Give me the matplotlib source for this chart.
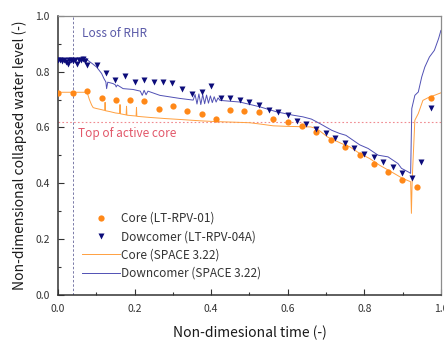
import matplotlib
matplotlib.use("Agg")
import matplotlib.pyplot as plt
from matplotlib.ticker import MultipleLocator

plt.rcParams['font.family'] = ['Noto Sans CJK KR', 'DejaVu Sans']

# Measured core level (LT-RPV-01)
core_exp_t = [0.001, 0.038, 0.076, 0.114, 0.151, 0.188, 0.225, 0.264, 0.301,
              0.338, 0.375, 0.413, 0.449, 0.487, 0.525, 0.562, 0.600, 0.638,
              0.675, 0.712, 0.750, 0.788, 0.825, 0.861, 0.899, 0.937, 0.974]
core_exp_y = [0.724, 0.724, 0.730, 0.706, 0.700, 0.697, 0.696, 0.665, 0.677,
              0.658, 0.650, 0.632, 0.661, 0.659, 0.655, 0.630, 0.620, 0.607,
              0.584, 0.557, 0.531, 0.501, 0.468, 0.441, 0.414, 0.389, 0.706]

# Measured downcomer level (LT-RPV-04A)
dc_exp_t = [0.000, 0.005, 0.010, 0.015, 0.020, 0.025, 0.030, 0.035, 0.040,
            0.045, 0.050, 0.055, 0.060, 0.065, 0.070,
            0.076, 0.101, 0.125, 0.150, 0.176, 0.201, 0.225, 0.251, 0.275,
            0.299, 0.325, 0.351, 0.375, 0.400, 0.425, 0.450, 0.475, 0.499,
            0.525, 0.550, 0.575, 0.600, 0.624, 0.649, 0.674, 0.700, 0.724,
            0.750, 0.774, 0.799, 0.825, 0.850, 0.876, 0.899, 0.925, 0.949,
            0.975]
dc_exp_y = [0.840, 0.842, 0.838, 0.841, 0.836, 0.826, 0.840, 0.842, 0.838,
            0.841, 0.826, 0.840, 0.843, 0.845, 0.838,
            0.822, 0.825, 0.795, 0.771, 0.783, 0.762, 0.769, 0.762, 0.764,
            0.758, 0.739, 0.721, 0.727, 0.747, 0.704, 0.704, 0.700, 0.691,
            0.680, 0.664, 0.656, 0.644, 0.624, 0.614, 0.596, 0.579, 0.563,
            0.543, 0.525, 0.507, 0.495, 0.477, 0.459, 0.438, 0.421, 0.477,
            0.668]

# SPACE 3.22 core level
core_sim_t = [0.000, 0.076, 0.082, 0.088, 0.092, 0.100, 0.110, 0.122, 0.123,
              0.124, 0.135, 0.150, 0.161, 0.162, 0.163, 0.178, 0.179, 0.180,
              0.204, 0.205, 0.206, 0.240, 0.280, 0.327, 0.370, 0.414, 0.460,
              0.501, 0.530, 0.562, 0.600, 0.632, 0.660, 0.676, 0.704, 0.740,
              0.762, 0.788, 0.814, 0.840, 0.875, 0.900, 0.921, 0.923, 0.925,
              0.932, 0.941, 0.953, 0.970, 0.985, 1.000]
core_sim_y = [0.726, 0.726, 0.700, 0.680, 0.671, 0.668, 0.665, 0.661, 0.690,
              0.660, 0.657, 0.652, 0.650, 0.682, 0.649, 0.645, 0.676, 0.644,
              0.641, 0.672, 0.640, 0.636, 0.632, 0.628, 0.624, 0.621, 0.619,
              0.617, 0.612, 0.606, 0.604, 0.603, 0.602, 0.596, 0.566, 0.543,
              0.531, 0.507, 0.489, 0.465, 0.438, 0.418, 0.406, 0.293, 0.412,
              0.626, 0.650, 0.697, 0.709, 0.716, 0.724]

# SPACE 3.22 downcomer level
dc_sim_t = [0.000, 0.020, 0.040, 0.060, 0.065, 0.072, 0.078, 0.090, 0.101,
            0.114, 0.120, 0.125, 0.127, 0.130, 0.144, 0.150, 0.152, 0.155,
            0.170, 0.196, 0.215, 0.220, 0.225, 0.230, 0.235, 0.266, 0.318,
            0.353, 0.358, 0.363, 0.368, 0.373, 0.378, 0.383, 0.388, 0.393,
            0.398, 0.403, 0.408, 0.413, 0.418, 0.423, 0.475, 0.527, 0.571,
            0.614, 0.640, 0.662, 0.684, 0.715, 0.735, 0.752, 0.770, 0.788,
            0.810, 0.836, 0.862, 0.888, 0.897, 0.915, 0.921, 0.924, 0.932,
            0.941, 0.950, 0.958, 0.970, 0.983, 0.994, 1.000]
dc_sim_y = [0.845, 0.846, 0.845, 0.846, 0.852, 0.850, 0.840, 0.828, 0.816,
            0.793, 0.775, 0.763, 0.739, 0.762, 0.757, 0.752, 0.745, 0.752,
            0.739, 0.736, 0.730, 0.715, 0.733, 0.717, 0.730, 0.715, 0.704,
            0.698, 0.718, 0.684, 0.720, 0.682, 0.718, 0.685, 0.716, 0.687,
            0.713, 0.689, 0.710, 0.691, 0.706, 0.697, 0.691, 0.674, 0.656,
            0.644, 0.638, 0.630, 0.614, 0.590, 0.579, 0.572, 0.555, 0.538,
            0.525, 0.501, 0.495, 0.471, 0.454, 0.441, 0.436, 0.668, 0.715,
            0.727, 0.781, 0.816, 0.852, 0.876, 0.918, 0.947]

fig = plt.figure(figsize=(4.44, 3.40), dpi=100)
ax = fig.add_axes([0.1306, 0.1315, 0.8624, 0.8225])

ax.plot(core_sim_t, core_sim_y, color='#ffa040', lw=0.7, zorder=2,
        label='Core (SPACE 3.22)')
ax.plot(dc_sim_t, dc_sim_y, color='#5050b4', lw=0.7, zorder=2,
        label='Downcomer (SPACE 3.22)')
ax.plot(core_exp_t, core_exp_y, 'o', color='#ff8818', ms=4.5, mec='none',
        zorder=3, label='Core (LT-RPV-01)')
ax.plot(dc_exp_t, dc_exp_y, 'v', color='#0c0c7a', ms=5.0, mec='none',
        zorder=3, label='Dowcomer (LT-RPV-04A)')

# event marker and top of active core
ax.axvline(0.04, color='#7a7aa8', lw=0.7, ls=(0, (2.5, 2)), zorder=1)
ax.axhline(0.62, color='#f08a90', lw=0.8, ls=(0, (1.5, 2)), zorder=1)
ax.text(0.063, 0.937, 'Loss of RHR', color='#5a5aa8', fontsize=8.5,
        va='center', ha='left')
ax.text(0.052, 0.58, 'Top of active core', color='#e2586a', fontsize=8.5,
        va='center', ha='left')

ax.set_xlim(0, 1.0)
ax.set_ylim(0, 1.0)
ax.xaxis.set_major_locator(MultipleLocator(0.2))
ax.xaxis.set_minor_locator(MultipleLocator(0.1))
ax.yaxis.set_major_locator(MultipleLocator(0.2))
ax.yaxis.set_minor_locator(MultipleLocator(0.1))
ax.xaxis.set_major_formatter(plt.FuncFormatter(lambda v, p: f'{v:.1f}'))
ax.yaxis.set_major_formatter(plt.FuncFormatter(lambda v, p: f'{v:.1f}'))
ax.tick_params(which='both', direction='in', colors='#333333',
               labelsize=7.5, width=0.8)
ax.tick_params(which='major', length=4, pad=6)
ax.tick_params(which='minor', length=2.5)
ax.tick_params(top=False, right=False, which='both')

for side in ['left', 'bottom']:
    ax.spines[side].set_color('#333333')
    ax.spines[side].set_linewidth(1.1)
for side in ['top', 'right']:
    ax.spines[side].set_color('#8c8c8c')
    ax.spines[side].set_linewidth(0.9)

ax.set_xlabel('Non-dimesional time (-)', fontsize=10, color='#1a1a1a',
              labelpad=9)
ax.set_ylabel('Non-dimensional collapsed water level (-)', fontsize=10,
              color='#1a1a1a', labelpad=6)

handles, labels = ax.get_legend_handles_labels()
order = [2, 3, 0, 1]
ax.legend([handles[i] for i in order], [labels[i] for i in order],
          loc='lower left', bbox_to_anchor=(0.062, 0.055), frameon=False,
          fontsize=8.5, handlelength=3.2, handletextpad=0.1,
          labelspacing=0.45, borderpad=0, borderaxespad=0,
          labelcolor='#333333')

fig.savefig('out.png', dpi=100)
